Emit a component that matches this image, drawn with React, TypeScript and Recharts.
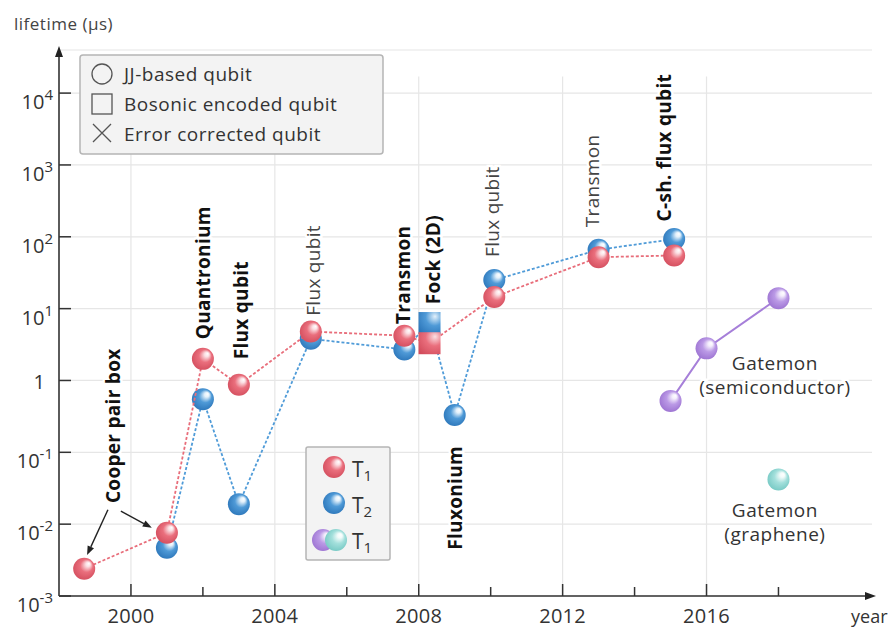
import React from "react";
import {
  ComposedChart,
  Scatter,
  XAxis,
  YAxis,
  CartesianGrid,
  ReferenceLine,
  ReferenceDot,
} from "recharts";

// T1 of each device; "boson" marks the Fock-state (bosonic encoded) qubit
const T1_YEARS = [1998.7, 2001, 2002, 2003, 2005, 2007.6, 2008.3, 2010.1, 2013, 2015.1];
const T1_VALUES = [0.0024, 0.0076, 2.0, 0.87, 4.8, 4.2, 3.3, 14.5, 52, 55];
const T1_KINDS = ["jj", "jj", "jj", "jj", "jj", "jj", "boson", "jj", "jj", "jj"];

// T2 of the same devices
const T2_YEARS = [2001, 2002, 2003, 2005, 2007.6, 2008.3, 2009, 2010.1, 2013, 2015.1];
const T2_VALUES = [0.0047, 0.55, 0.019, 3.8, 2.7, 6.3, 0.33, 25, 66, 93];
const T2_KINDS = ["jj", "jj", "jj", "jj", "jj", "boson", "jj", "jj", "jj", "jj"];

// gatemon T1
const SEMI_YEARS = [2015, 2016, 2018];
const SEMI_VALUES = [0.52, 2.8, 14];
const GRAPHENE_YEARS = [2018];
const GRAPHENE_VALUES = [0.042];

const Y_TICKS = [1e-3, 1e-2, 1e-1, 1, 10, 100, 1000, 10000];
const X_TICKS = [2000, 2002, 2004, 2006, 2008, 2010, 2012, 2014, 2016, 2018];
const X_LABELED = [2000, 2004, 2008, 2012, 2016];
const X_GRID = [2000, 2004, 2008, 2012, 2016];

const Y_TOP = Math.pow(10, 4.6);
const GRID_TOP = Math.pow(10, 4.23);

// rotated device names
const LABEL_TEXTS = ["Cooper pair box", "Quantronium", "Flux qubit", "Flux qubit", "Transmon", "Fock (2D)", "Flux qubit", "Transmon", "C-sh. flux qubit", "Fluxonium"];
const LABEL_YEARS = [1999.5, 2002.0, 2003.05, 2005.05, 2007.55, 2008.4, 2010.05, 2012.83, 2014.83, 2009.0];
const LABEL_VALUES = [0.234, 31.6, 9.5, 34, 29.5, 48, 224, 600, 1740, 0.0232];
const LABEL_BOLD = [true, true, true, false, true, true, false, false, true, true];

const FONT = "'Open Sans', Lato, sans-serif";

const t1Data = T1_YEARS.map((year, i) => ({ year, value: T1_VALUES[i], kind: T1_KINDS[i] }));
const t2Data = T2_YEARS.map((year, i) => ({ year, value: T2_VALUES[i], kind: T2_KINDS[i] }));
const semiData = SEMI_YEARS.map((year, i) => ({ year, value: SEMI_VALUES[i], kind: "jj" }));
const grapheneData = GRAPHENE_YEARS.map((year, i) => ({ year, value: GRAPHENE_VALUES[i], kind: "jj" }));

function Ball({ cx, cy, tone, r = 11 }: { cx: number; cy: number; tone: string; r?: number }) {
  return <circle cx={cx} cy={cy} r={r} fill={`url(#ball-${tone})`} />;
}

function Marker({ cx, cy, tone, kind }: { cx: number; cy: number; tone: string; kind: string }) {
  if (cx == null || cy == null) return null;
  if (kind === "boson") {
    return <rect x={cx - 11} y={cy - 11} width={22} height={22} fill={`url(#sq-${tone})`} />;
  }
  return <Ball cx={cx} cy={cy} tone={tone} />;
}

const markerShape = (tone: string) => (p: any) =>
  <Marker cx={p.cx} cy={p.cy} tone={tone} kind={p.kind ?? p.payload?.kind} />;

function XTick(p: any) {
  const { x, y, payload } = p;
  const major = X_LABELED.includes(payload.value);
  return (
    <g>
      <line x1={x} x2={x} y1={y} y2={y - (major ? 12 : 9)} stroke="#333" strokeWidth={1.5} />
      {major && (
        <text x={x} y={y + 27} textAnchor="middle" fontSize={20} letterSpacing={0.3} fill="#333" fontFamily={FONT}>
          {payload.value}
        </text>
      )}
    </g>
  );
}

function YTick(p: any) {
  const { x, y, payload } = p;
  const exp = Math.round(Math.log10(payload.value));
  return (
    <g>
      <line x1={x} x2={x + 12} y1={y} y2={y} stroke="#333" strokeWidth={1.5} />
      {exp === 0 ? (
        <text x={x - 14} y={y + 9} textAnchor="end" fontSize={20} fill="#333" fontFamily={FONT}>
          1
        </text>
      ) : (
        <text x={x - 6} y={y + 16} textAnchor="end" fontSize={20} fill="#333" fontFamily={FONT}>
          10
          <tspan dy={-9} fontSize={15}>
            {exp}
          </tspan>
        </text>
      )}
    </g>
  );
}

function RotLabel({ cx, cy, text, bold }: { cx: number; cy: number; text: string; bold: boolean }) {
  return (
    <text
      x={cx}
      y={cy}
      transform={`rotate(-90 ${cx} ${cy})`}
      textAnchor="middle"
      dominantBaseline="central"
      fontSize={19}
      letterSpacing={0.3}
      fontWeight={bold ? 700 : 400}
      fill={bold ? "#111" : "#444"}
      stroke="#fff"
      strokeWidth={5}
      paintOrder="stroke"
      fontFamily={FONT}
    >
      {text}
    </text>
  );
}

function TwoLineLabel({ cx, cy, lines }: { cx: number; cy: number; lines: string[] }) {
  return (
    <text
      x={cx}
      y={cy}
      textAnchor="middle"
      fontSize={19}
      letterSpacing={0.5}
      fill="#333"
      stroke="#fff"
      strokeWidth={5}
      paintOrder="stroke"
      fontFamily={FONT}
    >
      {lines.map((l, i) => (
        <tspan key={i} x={cx} dy={i === 0 ? 0 : 24}>
          {l}
        </tspan>
      ))}
    </text>
  );
}

const arrowShape = (p: any) => {
  const { x1, y1, x2, y2 } = p;
  const a = Math.atan2(y2 - y1, x2 - x1);
  const bx = x2 - 9 * Math.cos(a);
  const by = y2 - 9 * Math.sin(a);
  const px = -Math.sin(a) * 3.5;
  const py = Math.cos(a) * 3.5;
  return (
    <g>
      <line x1={x1} y1={y1} x2={bx} y2={by} stroke="#222" strokeWidth={1.4} />
      <polygon points={`${x2},${y2} ${bx + px},${by + py} ${bx - px},${by - py}`} fill="#222" />
    </g>
  );
};

// shaded sphere / tile fills, lit from the upper right
function Gradients() {
  const balls: [string, string, string, string][] = [
    ["red", "#fbe0e4", "#ea6f7d", "#d24c5c"],
    ["blue", "#e4f1fb", "#4f9ad7", "#2a74b8"],
    ["purple", "#f4eefc", "#bb9ae6", "#9a70d0"],
    ["teal", "#f2fbfa", "#a4e0dc", "#72c7c2"],
  ];
  return (
    <svg width={0} height={0} style={{ position: "absolute" }}>
      <defs>
        {balls.map(([id, hi, mid, lo]) => (
          <radialGradient key={id} id={`ball-${id}`} cx="50%" cy="48%" r="58%" fx="72%" fy="26%">
            <stop offset="0%" stopColor="#ffffff" />
            <stop offset="18%" stopColor={hi} />
            <stop offset="50%" stopColor={mid} />
            <stop offset="100%" stopColor={lo} />
          </radialGradient>
        ))}
        {balls.map(([id, hi, mid, lo]) => (
          <radialGradient key={id} id={`sq-${id}`} cx="70%" cy="25%" r="90%" fx="75%" fy="20%">
            <stop offset="0%" stopColor={hi} />
            <stop offset="45%" stopColor={mid} />
            <stop offset="100%" stopColor={lo} />
          </radialGradient>
        ))}
      </defs>
    </svg>
  );
}

function Overlay() {
  const txt = { fontFamily: FONT, fill: "#333" } as const;
  return (
    <svg width={894} height={628} style={{ position: "absolute", left: 0, top: 0, pointerEvents: "none" }}>
      <text x={14} y={30} fontSize={17} letterSpacing={0.5} {...txt} fill="#444">
        lifetime (μs)
      </text>
      <text x={851} y={623} fontSize={18} {...txt}>
        year
      </text>

      {/* marker-shape legend */}
      <rect x={80} y={55} width={303} height={99} rx={3} fill="#f3f3f3" stroke="#b5b5b5" strokeWidth={1.5} />
      <circle cx={102} cy={74} r={10} fill="none" stroke="#555" strokeWidth={1.3} />
      <rect x={92} y={94} width={20} height={20} fill="none" stroke="#555" strokeWidth={1.3} />
      <path d="M93 124 L111 142 M111 124 L93 142" stroke="#555" strokeWidth={1.3} />
      <text x={124} y={81} fontSize={19} letterSpacing={0.5} {...txt}>JJ-based qubit</text>
      <text x={124} y={111} fontSize={19} letterSpacing={0.5} {...txt}>Bosonic encoded qubit</text>
      <text x={124} y={141} fontSize={19} letterSpacing={0.5} {...txt}>Error corrected qubit</text>

      {/* colour legend */}
      <rect x={306} y={447} width={84} height={113} rx={2} fill="#f3f3f3" stroke="#b5b5b5" strokeWidth={1.5} />
      <Ball cx={334} cy={467} tone="red" />
      <Ball cx={334} cy={503} tone="blue" />
      <Ball cx={323} cy={540} tone="purple" />
      <Ball cx={336} cy={540} tone="teal" />
      {["1", "2", "1"].map((s, i) => (
        <text key={i} x={352} y={477 + i * 36} fontSize={21} {...txt}>
          T<tspan fontSize={15} dy={4}>{s}</tspan>
        </text>
      ))}
    </svg>
  );
}

export default function App() {
  return (
    <div style={{ position: "absolute", left: 0, top: 0, width: 894, height: 628, background: "#fff" }}>
      <Gradients />
      <ComposedChart width={894} height={628} margin={{ top: 50, right: 22, bottom: 2, left: 9 }}>
        <CartesianGrid vertical={false} stroke="#e6e6e6" strokeWidth={1.2} />
        {X_GRID.map((yr) => (
          <ReferenceLine
            key={yr}
            segment={[{ x: yr, y: 1e-3 }, { x: yr, y: GRID_TOP }]}
            stroke="#e6e6e6"
            strokeWidth={1.2}
            ifOverflow="visible"
          />
        ))}
        <XAxis
          dataKey="year"
          type="number"
          domain={[1998, 2020.6]}
          allowDataOverflow
          ticks={X_TICKS}
          tick={(p: any) => <XTick {...p} />}
          tickLine={false}
          tickSize={0}
          tickMargin={0}
          height={30}
          axisLine={{ stroke: "#333", strokeWidth: 1.6 }}
        />
        <YAxis
          dataKey="value"
          type="number"
          scale="log"
          domain={[1e-3, Y_TOP]}
          allowDataOverflow
          ticks={Y_TICKS}
          tick={(p: any) => <YTick {...p} />}
          tickLine={false}
          tickSize={0}
          tickMargin={0}
          width={50}
          axisLine={{ stroke: "#333", strokeWidth: 1.6 }}
        />
        {/* axis arrow heads */}
        <ReferenceDot
          x={1998}
          y={Y_TOP}
          ifOverflow="visible"
          shape={(p: any) => (
            <polygon points={`${p.cx},${p.cy - 4} ${p.cx - 4},${p.cy + 7} ${p.cx + 4},${p.cy + 7}`} fill="#222" />
          )}
        />
        <ReferenceDot
          x={2020.6}
          y={1e-3}
          ifOverflow="visible"
          shape={(p: any) => (
            <polygon points={`${p.cx + 4},${p.cy} ${p.cx - 7},${p.cy - 4} ${p.cx - 7},${p.cy + 4}`} fill="#222" />
          )}
        />

        {/* arrows pointing at the two Cooper pair box points */}
        <ReferenceLine
          segment={[{ x: 1999.36, y: Math.pow(10, -1.8) }, { x: 1998.78, y: Math.pow(10, -2.43) }]}
          ifOverflow="visible"
          shape={arrowShape}
        />
        <ReferenceLine
          segment={[{ x: 1999.72, y: Math.pow(10, -1.82) }, { x: 2000.58, y: Math.pow(10, -2.05) }]}
          ifOverflow="visible"
          shape={arrowShape}
        />

        {LABEL_TEXTS.map((t, i) => (
          <ReferenceDot
            key={i}
            x={LABEL_YEARS[i]}
            y={LABEL_VALUES[i]}
            ifOverflow="visible"
            shape={(p: any) => <RotLabel cx={p.cx} cy={p.cy} text={t} bold={LABEL_BOLD[i]} />}
          />
        ))}
        <ReferenceDot
          x={2017.9}
          y={1.76}
          ifOverflow="visible"
          shape={(p: any) => <TwoLineLabel cx={p.cx} cy={p.cy + 7} lines={["Gatemon", "(semiconductor)"]} />}
        />
        <ReferenceDot
          x={2017.9}
          y={0.0158}
          ifOverflow="visible"
          shape={(p: any) => <TwoLineLabel cx={p.cx} cy={p.cy + 7} lines={["Gatemon", "(graphene)"]} />}
        />

        <Scatter
          data={semiData}
          line={{ stroke: "#a67fd9", strokeWidth: 2 }}
          lineType="joint"
          shape={markerShape("purple")}
          isAnimationActive={false}
        />
        <Scatter data={grapheneData} shape={markerShape("teal")} isAnimationActive={false} />
        <Scatter
          data={t2Data}
          line={{ stroke: "#4f9bd8", strokeWidth: 1.8, strokeDasharray: "3 2" }}
          lineType="joint"
          shape={markerShape("blue")}
          isAnimationActive={false}
        />
        <Scatter
          data={t1Data}
          line={{ stroke: "#e86d7a", strokeWidth: 1.8, strokeDasharray: "3 2" }}
          lineType="joint"
          shape={markerShape("red")}
          isAnimationActive={false}
        />
      </ComposedChart>
      <Overlay />
    </div>
  );
}
